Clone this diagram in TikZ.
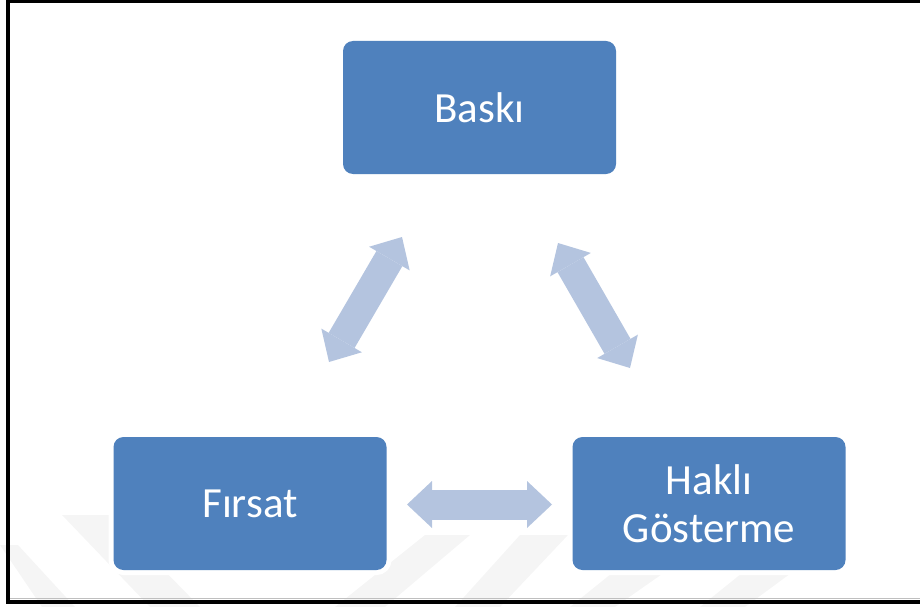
\documentclass[tikz,border=0pt]{standalone}
\usepackage{fontspec}
\setmainfont{Carlito}
\usetikzlibrary{arrows.meta}
\definecolor{boxblue}{HTML}{4F81BD}
\definecolor{arrowblue}{HTML}{B4C4DF}
\tikzset{
  kutu/.style={rectangle, rounded corners=10pt, fill=boxblue,
    preaction={draw=white, line width=10pt},
    minimum width=273pt, minimum height=133pt, inner sep=0pt,
    text=white, align=center, font=\fontsize{43}{48}\selectfont},
  cift/.style={draw=arrowblue, line width=30pt,
    {Triangle[width=47pt,length=25pt,line width=0pt]}-{Triangle[width=47pt,length=25pt,line width=0pt]}},
  filigran/.style={fill=black!4}
}
\begin{document}
\begin{tikzpicture}[x=1pt,y=-1pt]
	\useasboundingbox (0,0) rectangle (920,607);
	\clip (0,0) rectangle (920,607);
	% faint watermark bands
	\fill[filigran] (0,545) -- (18,545) -- (75,607) -- (42,607) -- cycle;
	\fill[filigran] (62,515) -- (110,515) -- (200,607) -- (150,607) -- cycle;
	\fill[filigran] (425,535) -- (470,535) -- (385,607) -- (335,607) -- cycle;
	\fill[filigran] (520,535) -- (568,535) -- (500,607) -- (455,607) -- cycle;
	\fill[filigran] (622,565) -- (675,565) -- (615,607) -- (570,607) -- cycle;
	\fill[filigran] (752,565) -- (802,565) -- (745,607) -- (700,607) -- cycle;
	% frame
	\draw[black!25, line width=1.5pt] (8,598.5) -- (925,598.5);
	\draw[black, line width=3.5pt] (925,1.5) -- (8,1.5) -- (8,602) -- (925,602);
	% boxes
	\node[kutu] (baski) at (479.5,107.5) {Baskı};
	\node[kutu] (firsat) at (250,503.5) {Fırsat};
	\node[kutu] (hakli) at (709,503.5) {Haklı\\Gösterme};
	% arrow ends
	\coordinate (firsatU) at (329,362);
	\coordinate (baskiL) at (402,237);
	\coordinate (baskiR) at (558,243);
	\coordinate (hakliU) at (630,368);
	\coordinate (firsatR) at (407,504.5);
	\coordinate (hakliL) at (552,504.5);
	\draw[cift] (firsatU) -- (baskiL);
	\draw[cift] (baskiR) -- (hakliU);
	\draw[cift] (firsatR) -- (hakliL);
\end{tikzpicture}
\end{document}
